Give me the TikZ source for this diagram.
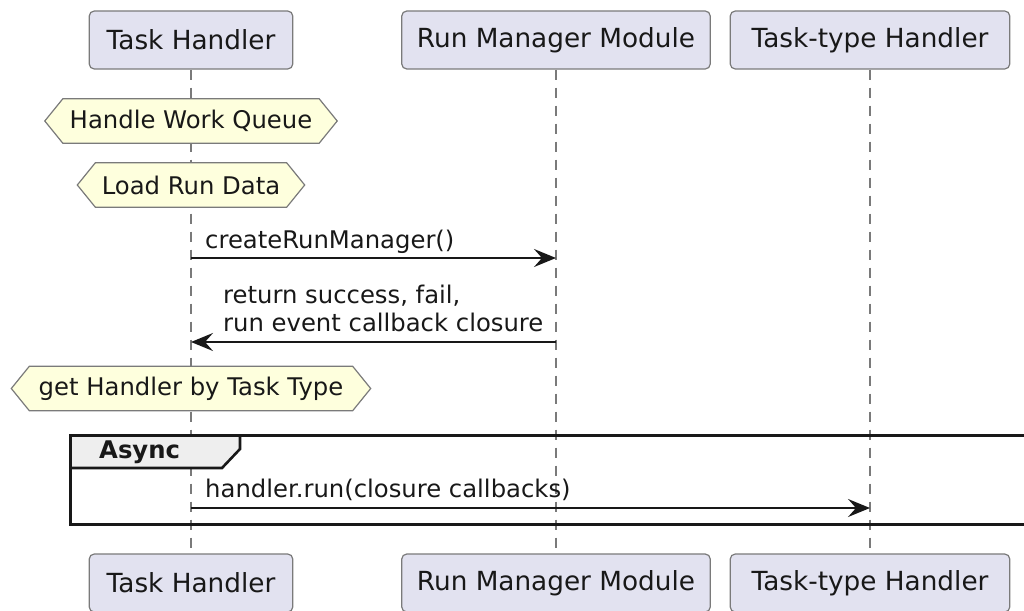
\documentclass[tikz,border=0pt]{standalone}
\usepackage{fontspec}
\setmainfont{DejaVu Sans}
\usetikzlibrary{arrows.meta}
\definecolor{partfill}{HTML}{E2E2F0}
\definecolor{notefill}{HTML}{FEFFDD}
\definecolor{ink}{HTML}{181818}
\definecolor{edge}{HTML}{7A7A7A}
\definecolor{tabfill}{HTML}{EEEEEE}
\pgfdeclarelayer{lines}
\pgfdeclarelayer{shapes}
\pgfsetlayers{lines,shapes,main}

\begin{document}
\begin{tikzpicture}[x=1pt,y=-1pt,
  participant/.style={draw=edge, line width=1.2pt, fill=partfill, rounded corners=5pt,
    minimum height=58pt, inner sep=0pt, font=\fontsize{26.3}{30}\selectfont, text=ink},
  lifeline/.style={draw=edge, line width=1.3pt, dash pattern=on 10pt off 8pt},
  hexlabel/.style={inner sep=0pt, minimum height=44pt, font=\fontsize{24.3}{28}\selectfont, text=ink},
  hexedge/.style={draw=edge, fill=notefill, line width=1.2pt},
  msg/.style={draw=ink, line width=1.8pt, -{Stealth[length=22pt,width=18pt,inset=8pt]}},
  msglabel/.style={anchor=base west, inner sep=0pt, font=\fontsize{24.3}{28}\selectfont, text=ink},
  frameline/.style={draw=ink, line width=3pt},
]
\useasboundingbox (0,0) rectangle (1024,610);

% participants, top and bottom
\node[participant, minimum width=203.5pt] (thT) at (191,40) {Task Handler};
\node[participant, minimum width=308.5pt] (rmT) at (556,40) {Run Manager Module};
\node[participant, minimum width=279.5pt] (ttT) at (870,40) {Task-type Handler};
\node[participant, minimum width=203.5pt] (thB) at (191,583) {Task Handler};
\node[participant, minimum width=308.5pt] (rmB) at (556,583) {Run Manager Module};
\node[participant, minimum width=279.5pt] (ttB) at (870,583) {Task-type Handler};

% lifelines
\begin{pgfonlayer}{lines}
  \draw[lifeline] (thT.south) -- (thB.north);
  \draw[lifeline] (rmT.south) -- (rmB.north);
  \draw[lifeline] (ttT.south) -- (ttB.north);
\end{pgfonlayer}

% hexagonal notes over the Task Handler
\node[hexlabel, minimum width=256pt] (hwq) at (191,121) {Handle Work Queue};
\node[hexlabel, minimum width=191pt] (lrd) at (191,185) {Load Run Data};
\node[hexlabel, minimum width=323pt] (ght) at (191,388.5) {get Handler by Task Type};
\begin{pgfonlayer}{shapes}
  \foreach \n in {hwq,lrd,ght}{
    \path[hexedge] (\n.north west) -- (\n.north east) -- ([xshift=18pt]\n.east)
      -- (\n.south east) -- (\n.south west) -- ([xshift=-18pt]\n.west) -- cycle;
  }
  % async group header tab
  \path[fill=tabfill] (70,435) -- (240,435) -- (240,449) -- (222,468) -- (70,468) -- cycle;
\end{pgfonlayer}

% async group frame
\draw[frameline] (70,435) rectangle (1040,524);
\draw[draw=ink, line width=2.6pt] (240,435) -- (240,449) -- (222,468) -- (70,468);
\node[anchor=base west, inner sep=0pt, font=\fontsize{24.3}{28}\selectfont\bfseries, text=ink] (async) at (99,458) {Async};

% messages
\coordinate (m1) at (0,258);
\coordinate (m2) at (0,342);
\coordinate (m3) at (0,508);
\draw[msg] (thT |- m1) -- (rmT |- m1);
\node[msglabel] (l1) at (205,248) {createRunManager()};
\draw[msg] (rmT |- m2) -- (thT |- m2);
\node[msglabel] (l2a) at (223,303) {return success, fail,};
\node[msglabel] (l2b) at (223,331) {run event callback closure};
\draw[msg] (thT |- m3) -- (ttT |- m3);
\node[msglabel] (l3) at (205,497) {handler.run(closure callbacks)};
\end{tikzpicture}
\end{document}
